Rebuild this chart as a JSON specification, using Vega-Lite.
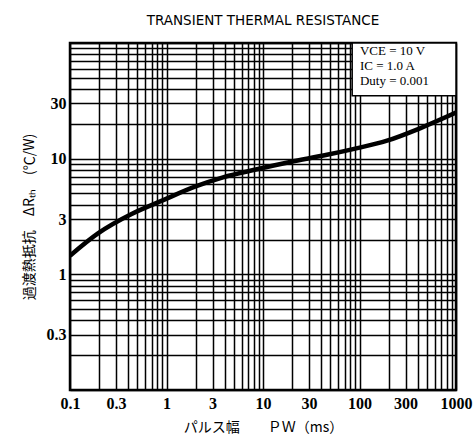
{
  "$schema": "https://vega.github.io/schema/vega-lite/v6.json",
  "width": 386,
  "height": 347,
  "autosize": "none",
  "padding": {"left": 70, "top": 43, "right": 20, "bottom": 55},
  "background": "white",
  "config": {
    "view": {"stroke": "black", "strokeWidth": 2.5},
    "axis": {
      "grid": true,
      "gridColor": "black",
      "gridWidth": 1.5,
      "gridOpacity": 1,
      "ticks": false,
      "domain": false,
      "labelFont": "Liberation Serif",
      "labelFontWeight": "bold",
      "labelFontSize": 16,
      "labelColor": "black",
      "titleColor": "black",
      "titleFont": "Noto Sans CJK JP",
      "titleFontWeight": "normal",
      "titleFontSize": 14,
      "format": "~g",
      "labelFlush": false
    },
    "axisX": {"titleFontSize": 14, "titlePadding": 9, "labelPadding": 5},
    "axisY": {"titlePadding": 10, "labelPadding": 4}
  },
  "title": {
    "text": "TRANSIENT  THERMAL  RESISTANCE",
    "font": "DejaVu Sans",
    "fontSize": 13.5,
    "fontWeight": "normal",
    "color": "black",
    "anchor": "middle",
    "offset": 15
  },
  "datasets": {
    "curve": [
      {"pw": 0.1, "r": 1.45},
      {"pw": 0.195, "r": 2.26},
      {"pw": 0.44, "r": 3.34},
      {"pw": 0.9, "r": 4.34},
      {"pw": 1.97, "r": 5.73},
      {"pw": 3.85, "r": 6.9},
      {"pw": 8.67, "r": 8.1},
      {"pw": 19.1, "r": 9.35},
      {"pw": 46, "r": 10.8},
      {"pw": 85.7, "r": 12.1},
      {"pw": 193, "r": 14.3},
      {"pw": 424, "r": 18.3},
      {"pw": 1000, "r": 25}
    ],
    "box": [
      {"pw": 84, "pw2": 1000, "r": 35, "r2": 100}
    ],
    "note": [
      {"pw": 101, "r": 85, "text": "VCE = 10 V"},
      {"pw": 101, "r": 63, "text": "IC = 1.0 A"},
      {"pw": 101, "r": 47, "text": "Duty = 0.001"}
    ]
  },
  "layer": [
    {
      "data": {"name": "curve"},
      "mark": {"type": "line", "color": "black", "strokeWidth": 4.5, "interpolate": "monotone", "clip": true},
      "encoding": {
        "x": {
          "field": "pw", "type": "quantitative",
          "scale": {"type": "log", "domain": [0.1, 1000], "nice": false},
          "axis": {
            "title": "パルス幅　　ＰＷ（ms）",
            "values": [0.1,0.2,0.3,0.4,0.5,0.6,0.7,0.8,0.9,1,2,3,4,5,6,7,8,9,10,20,30,40,50,60,70,80,90,100,200,300,400,500,600,700,800,900,1000],
            "labelExpr": "indexof([0.1,0.3,1,3,10,30,100,300,1000], datum.value) >= 0 ? datum.label : ''"
          }
        },
        "y": {
          "field": "r", "type": "quantitative",
          "scale": {"type": "log", "domain": [0.1, 100], "nice": false},
          "axis": {
            "title": "過渡熱抵抗　ΔRₜₕ　(℃/W)",
            "values": [0.1,0.2,0.3,0.4,0.5,0.6,0.7,0.8,0.9,1,2,3,4,5,6,7,8,9,10,20,30,40,50,60,70,80,90,100],
            "labelExpr": "indexof([0.3,1,3,10,30], datum.value) >= 0 ? datum.label : ''"
          }
        }
      }
    },
    {
      "data": {"name": "box"},
      "mark": {"type": "rect", "fill": "white", "stroke": "black", "strokeWidth": 1.5},
      "encoding": {
        "x": {
          "field": "pw", "type": "quantitative",
          "scale": {"type": "log", "domain": [0.1, 1000], "nice": false},
          "axis": {
            "title": "パルス幅　　ＰＷ（ms）",
            "values": [0.1,0.2,0.3,0.4,0.5,0.6,0.7,0.8,0.9,1,2,3,4,5,6,7,8,9,10,20,30,40,50,60,70,80,90,100,200,300,400,500,600,700,800,900,1000],
            "labelExpr": "indexof([0.1,0.3,1,3,10,30,100,300,1000], datum.value) >= 0 ? datum.label : ''"
          }
        },
        "x2": {"field": "pw2"},
        "y": {
          "field": "r", "type": "quantitative",
          "scale": {"type": "log", "domain": [0.1, 100], "nice": false},
          "axis": {
            "title": "過渡熱抵抗　ΔRₜₕ　(℃/W)",
            "values": [0.1,0.2,0.3,0.4,0.5,0.6,0.7,0.8,0.9,1,2,3,4,5,6,7,8,9,10,20,30,40,50,60,70,80,90,100],
            "labelExpr": "indexof([0.3,1,3,10,30], datum.value) >= 0 ? datum.label : ''"
          }
        },
        "y2": {"field": "r2"}
      }
    },
    {
      "data": {"name": "note"},
      "mark": {"type": "text", "align": "left", "baseline": "middle", "font": "Liberation Serif", "fontSize": 13, "color": "black"},
      "encoding": {
        "x": {
          "field": "pw", "type": "quantitative",
          "scale": {"type": "log", "domain": [0.1, 1000], "nice": false},
          "axis": {
            "title": "パルス幅　　ＰＷ（ms）",
            "values": [0.1,0.2,0.3,0.4,0.5,0.6,0.7,0.8,0.9,1,2,3,4,5,6,7,8,9,10,20,30,40,50,60,70,80,90,100,200,300,400,500,600,700,800,900,1000],
            "labelExpr": "indexof([0.1,0.3,1,3,10,30,100,300,1000], datum.value) >= 0 ? datum.label : ''"
          }
        },
        "y": {
          "field": "r", "type": "quantitative",
          "scale": {"type": "log", "domain": [0.1, 100], "nice": false},
          "axis": {
            "title": "過渡熱抵抗　ΔRₜₕ　(℃/W)",
            "values": [0.1,0.2,0.3,0.4,0.5,0.6,0.7,0.8,0.9,1,2,3,4,5,6,7,8,9,10,20,30,40,50,60,70,80,90,100],
            "labelExpr": "indexof([0.3,1,3,10,30], datum.value) >= 0 ? datum.label : ''"
          }
        },
        "text": {"field": "text"}
      }
    }
  ]
}
